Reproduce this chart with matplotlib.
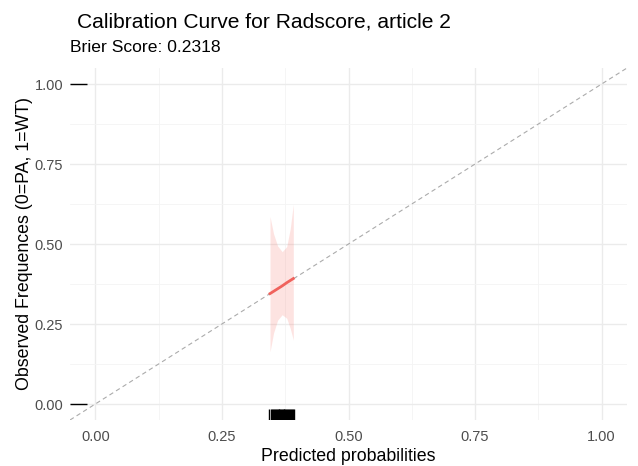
import numpy as np
import matplotlib.pyplot as plt

plt.rcParams['font.family'] = ['Liberation Sans', 'DejaVu Sans']

# fitted calibration curve with confidence band
fit_x = [0.345, 0.352, 0.360, 0.369, 0.378, 0.385, 0.391]
fit_y = [0.345, 0.352, 0.360, 0.369, 0.379, 0.386, 0.392]
band_hi = [0.586, 0.532, 0.494, 0.476, 0.492, 0.548, 0.624]
band_lo = [0.163, 0.222, 0.262, 0.279, 0.268, 0.236, 0.200]

# predicted probabilities (rug on x) and observed outcomes (rug on y)
pred = [0.343, 0.346, 0.348, 0.351, 0.353, 0.355, 0.356, 0.358, 0.360, 0.362,
        0.363, 0.365, 0.367, 0.368, 0.370, 0.372, 0.373, 0.375, 0.377, 0.378,
        0.380, 0.382, 0.384, 0.386, 0.388, 0.390, 0.392]
observed = [0, 1]

brier = 0.2318

fig = plt.figure(figsize=(6.38, 4.66), dpi=100)
ax = fig.add_axes([70 / 638, 46 / 466, 557 / 638, 352 / 466])

ax.set_xlim(-0.05, 1.05)
ax.set_ylim(-0.05, 1.05)

major = [0, 0.25, 0.5, 0.75, 1.0]
minor = [0.125, 0.375, 0.625, 0.875]
ax.set_xticks(major)
ax.set_yticks(major)
ax.set_xticks(minor, minor=True)
ax.set_yticks(minor, minor=True)
ax.set_xticklabels(['0.00', '0.25', '0.50', '0.75', '1.00'])
ax.set_yticklabels(['0.00', '0.25', '0.50', '0.75', '1.00'])
ax.grid(True, which='major', color='#EBEBEB', linewidth=1.0)
ax.grid(True, which='minor', color='#F4F4F4', linewidth=0.6)
ax.set_axisbelow(True)
ax.tick_params(which='both', length=0, labelsize=10.5, labelcolor='#4D4D4D')
ax.tick_params(axis='x', pad=7)
ax.tick_params(axis='y', pad=5)
for s in ax.spines.values():
    s.set_visible(False)

ax.plot([-0.05, 1.05], [-0.05, 1.05], ls=(0, (4, 3)), color='#ABABAB', lw=0.8)

ax.fill_between(fit_x, band_lo, band_hi, color='#F8766D', alpha=0.2, lw=0)
ax.plot(fit_x, fit_y, color='#F0625C', lw=2)

for p in pred:
    ax.plot([p, p], [-0.05, -0.017], color='black', lw=1, solid_capstyle='butt')
for o in observed:
    ax.plot([-0.05, -0.017], [o, o], color='black', lw=1, solid_capstyle='butt')

ax.set_xlabel('Predicted probabilities', fontsize=12.8, labelpad=3)
ax.set_ylabel('Observed Frequences (0=PA, 1=WT)', fontsize=12.8, labelpad=1)

fig.text(77 / 638, 1 - 22 / 466, 'Calibration Curve for Radscore, article 2',
         fontsize=15.1, va='center', ha='left')
fig.text(70 / 638, 1 - 48 / 466, 'Brier Score: %.4f' % brier,
         fontsize=12.6, va='center', ha='left')

fig.savefig('out.png', dpi=100)
